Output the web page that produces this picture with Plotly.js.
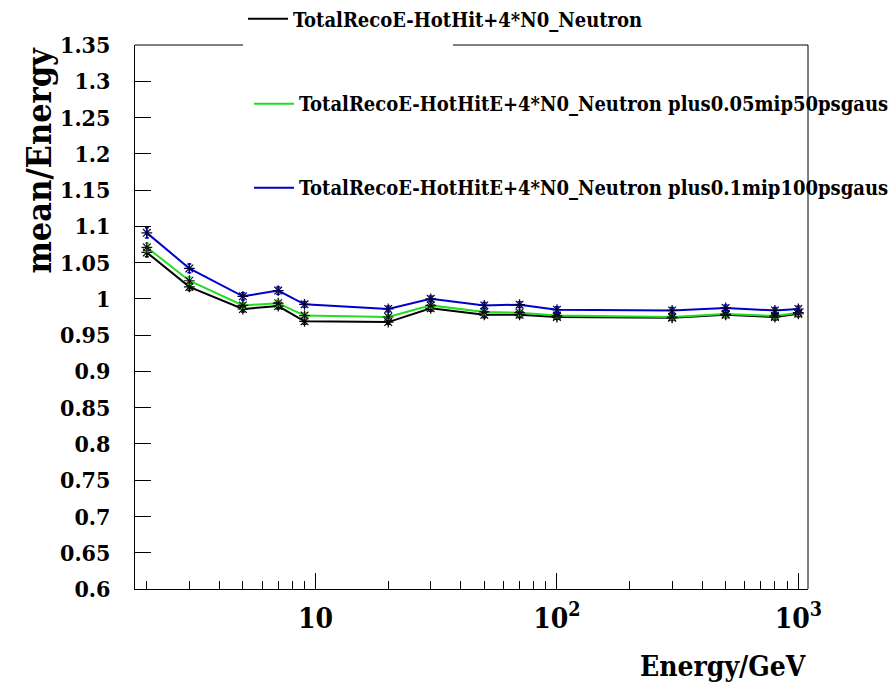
<!DOCTYPE html>
<html>
<head>
<meta charset="utf-8">
<script src="https://cdn.plot.ly/plotly-3.0.1.min.js"></script>
<style>
html,body{margin:0;padding:0;background:#fff;}
#plot{width:890px;height:687px;}
</style>
</head>
<body>
<div id="plot"></div>
<script>
// Beam energies (GeV)
const energy = [2, 3, 5, 7, 9, 20, 30, 50, 70, 100, 300, 500, 800, 1000];
// mean/Energy for the three reconstructions
const ratioBase   = [1.064, 1.0165, 0.986, 0.990, 0.969, 0.968, 0.987, 0.978, 0.978, 0.975, 0.974, 0.978, 0.975, 0.9795];
const ratio005    = [1.071, 1.025, 0.991, 0.994, 0.977, 0.975, 0.991, 0.982, 0.981, 0.977, 0.975, 0.979, 0.9765, 0.981];
const ratio01     = [1.091, 1.042, 1.0035, 1.0114, 0.9925, 0.986, 1.000, 0.991, 0.992, 0.985, 0.984, 0.9875, 0.984, 0.986];
// statistical errors
const errBase = [0.006, 0.005, 0.004, 0.004, 0.004, 0.003, 0.004, 0.004, 0.004, 0.003, 0.003, 0.004, 0.004, 0.004];
const err005  = [0.006, 0.005, 0.004, 0.004, 0.004, 0.003, 0.004, 0.004, 0.004, 0.003, 0.003, 0.004, 0.004, 0.004];
const err01   = [0.007, 0.006, 0.005, 0.005, 0.004, 0.004, 0.004, 0.004, 0.004, 0.004, 0.004, 0.004, 0.004, 0.004];
const names = [
  "TotalRecoE-HotHit+4*N0_Neutron",
  "TotalRecoE-HotHitE+4*N0_Neutron plus0.05mip50psgaus",
  "TotalRecoE-HotHitE+4*N0_Neutron plus0.1mip100psgaus"
];
// axis ticks
const yTickVals = [0.6,0.65,0.7,0.75,0.8,0.85,0.9,0.95,1,1.05,1.1,1.15,1.2,1.25,1.3,1.35];
const yTickText = ["0.6","0.65","0.7","0.75","0.8","0.85","0.9","0.95","1","1.05","1.1","1.15","1.2","1.25","1.3","1.35"];
const xTickVals = [10, 100, 1000];
const xTickText = ["10", "10<sup>2</sup>", "10<sup>3</sup>"];
const xMinorVals = [2,3,4,5,6,7,8,9,20,30,40,50,60,70,80,90,200,300,400,500,600,700,800,900];

const font = "DejaVu Serif Condensed, DejaVu Serif";
function lineTrace(y, name, color, leg) {
  return {x: energy, y: y, name: name, type: "scatter", mode: "lines",
    line: {color: color, width: 2}, legend: leg};
}
function markTrace(y, e, color, mcolor) {
  return {x: energy, y: y, type: "scatter", mode: "markers", showlegend: false,
    marker: {symbol: "asterisk-open", size: 9, color: mcolor, line: {color: mcolor, width: 1.2}},
    error_y: {type: "data", array: e, visible: true, color: color, thickness: 1.5, width: 2}};
}
const data = [
  lineTrace(ratioBase, names[0], "#000000", "legend"),
  lineTrace(ratio005, names[1], "#22dd22", "legend2"),
  lineTrace(ratio01, names[2], "#0000cc", "legend3"),
  markTrace(ratioBase, errBase, "#000000", "#000000"),
  markTrace(ratio005, err005, "#22dd22", "#111111"),
  markTrace(ratio01, err01, "#0000cc", "#000044")
];
const W = 890, H = 687, L = 135, R = 808, T = 45.3, B = 589.5;
const px = v => (v - L) / (R - L);
const py = v => (B - v) / (B - T);
const legFont = {family: font, size: 20, color: "#000", weight: "bold"};
const legCommon = {bgcolor: "rgba(0,0,0,0)", borderwidth: 0, font: legFont, xanchor: "left", yanchor: "middle", itemwidth: 40};
const layout = {
  width: W, height: H,
  margin: {l: L, r: W - R, t: T, b: H - B, autoexpand: false},
  paper_bgcolor: "#fff", plot_bgcolor: "#fff",
  showlegend: true,
  font: {family: font, color: "#000"},
  xaxis: {
    type: "log", range: [0.252, 3.04],
    tickmode: "array", tickvals: xTickVals, ticktext: xTickText,
    ticks: "inside", ticklen: 16, tickcolor: "#000", tickwidth: 1,
    minor: {tickmode: "array", tickvals: xMinorVals, ticks: "inside", ticklen: 8, tickcolor: "#000", showgrid: false},
    showgrid: false, zeroline: false, showline: true, linecolor: "#000", linewidth: 1, mirror: false,
    tickfont: {family: font, size: 28, weight: "bold"}, ticklabelstandoff: 4
  },
  yaxis: {
    range: [0.6, 1.35],
    tickmode: "array", tickvals: yTickVals, ticktext: yTickText,
    ticks: "inside", ticklen: 16, tickcolor: "#000", tickwidth: 1,
    showgrid: false, zeroline: false, showline: true, linecolor: "#000", linewidth: 1, mirror: false,
    tickfont: {family: font, size: 23, weight: "bold"}, ticklabelstandoff: 19
  },
  legend: Object.assign({x: px(243), y: py(19)}, legCommon),
  legend2: Object.assign({x: px(249), y: py(104)}, legCommon),
  legend3: Object.assign({x: px(249), y: py(188)}, legCommon),
  shapes: [
    {type: "line", xref: "paper", yref: "paper", x0: 1, x1: 1, y0: 0, y1: 1, line: {color: "#000", width: 1}},
    {type: "line", xref: "paper", yref: "paper", x0: 0, x1: px(243), y0: 1, y1: 1, line: {color: "#000", width: 1}},
    {type: "line", xref: "paper", yref: "paper", x0: px(453), x1: 1, y0: 1, y1: 1, line: {color: "#000", width: 1}}
  ],
  annotations: [
    {text: "Energy/GeV", xref: "paper", yref: "paper", x: 1, y: py(686), xanchor: "right", yanchor: "bottom",
     showarrow: false, font: {family: font, size: 28, weight: "bold"}},
    {text: "mean/Energy", xref: "paper", yref: "paper", x: px(16), y: 1, xanchor: "left", yanchor: "top",
     textangle: -90, showarrow: false, font: {family: font, size: 34, weight: "bold"}}
  ]
};
Plotly.newPlot("plot", data, layout, {displayModeBar: false, staticPlot: true});
</script>
</body>
</html>
